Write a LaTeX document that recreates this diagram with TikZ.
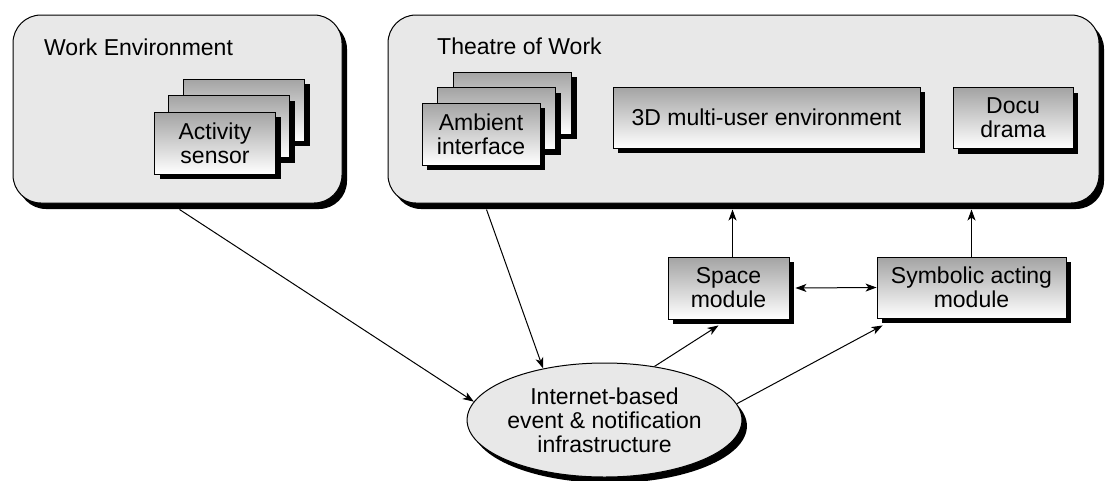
\documentclass[tikz,border=0pt]{standalone}
\usepackage{fontspec}
\setmainfont{Liberation Sans}
\usetikzlibrary{shadows,arrows.meta,calc,shapes.geometric}
\definecolor{panelgray}{HTML}{E8E8E8}
\newcommand\diagfont{\fontsize{23}{24}\selectfont}
\tikzset{
  blackshadow/.style={drop shadow={shadow xshift=5pt, shadow yshift=-6pt, fill=black, opacity=1}},
  panel/.style={draw=black, line width=1pt, fill=panelgray, rounded corners=28pt, blackshadow},
  card/.style={draw=black, line width=0.9pt, top color=black!36, bottom color=white,
    drop shadow={shadow xshift=5pt, shadow yshift=-5pt, fill=black, opacity=1},
    align=center, inner sep=0pt, font=\diagfont},
  paneltitle/.style={inner sep=0pt, font=\diagfont},
  hub/.style={ellipse, draw=black, line width=1pt, fill=panelgray, blackshadow,
    align=center, inner sep=0pt, font=\diagfont},
  arr/.style={line width=1pt, -{Stealth[length=11pt,width=8pt,inset=3pt]}},
  darr/.style={line width=1pt, {Stealth[length=11pt,width=8pt,inset=3pt]}-{Stealth[length=11pt,width=8pt,inset=3pt]}}
}
\begin{document}
\begin{tikzpicture}[x=1pt,y=-1pt]
\useasboundingbox (0,0) rectangle (1106,480);
% containers
\node[panel, minimum width=329pt, minimum height=188pt] (we) at (177.5,109) {};
\node[panel, minimum width=711pt, minimum height=188pt] (tw) at (743.5,109) {};
\node[paneltitle, anchor=west] (welab) at (44,47) {Work Environment};
\node[paneltitle, anchor=west] (twlab) at (437,46) {Theatre of Work};
% activity sensor stack
\node[card, minimum width=121pt, minimum height=62pt] (act3) at (244,110) {};
\node[card, minimum width=121pt, minimum height=62pt] (act2) at (229,126.5) {};
\node[card, minimum width=121pt, minimum height=62pt] (act1) at (215,143) {Activity\\sensor};
% ambient interface stack
\node[card, minimum width=118pt, minimum height=62pt] (amb3) at (512.5,103) {};
\node[card, minimum width=118pt, minimum height=62pt] (amb2) at (496.5,118.5) {};
\node[card, minimum width=118pt, minimum height=62pt] (amb1) at (481,134) {Ambient\\interface};
% other boxes
\node[card, minimum width=307pt, minimum height=61pt] (mue) at (766.5,117.5) {3D multi-user environment};
\node[card, minimum width=120pt, minimum height=61pt] (docu) at (1013,118) {Docu\\drama};
\node[card, minimum width=121pt, minimum height=62pt] (sp) at (728.5,288) {Space\\module};
\node[card, minimum width=189pt, minimum height=61pt] (sy) at (971.5,287.5) {Symbolic acting\\module};
% hub
\node[hub, minimum width=265pt, minimum height=114pt] (el) at (604.5,420) {Internet-based\\event \& notification\\infrastructure};
% connectors
\draw[arr] ($(we.south)+(2,6)$) -- (el.172);
\draw[arr] ($(tw.south west)+(99,6)$) -- (el.140);
\draw[arr] (el.47) -- ($(sp.south)+(-10,6)$);
\draw[arr] (el.7) -- ($(sy.south west)+(6,7)$);
\draw[arr] ($(sp.north)+(4,0)$) -- ($(sp.north |- tw.south)+(4,6)$);
\draw[arr] (sy.north) -- ($(sy.north |- tw.south)+(0,6)$);
\draw[darr] ($(sp.east)+(6,0)$) -- (sy.west);
\end{tikzpicture}
\end{document}
